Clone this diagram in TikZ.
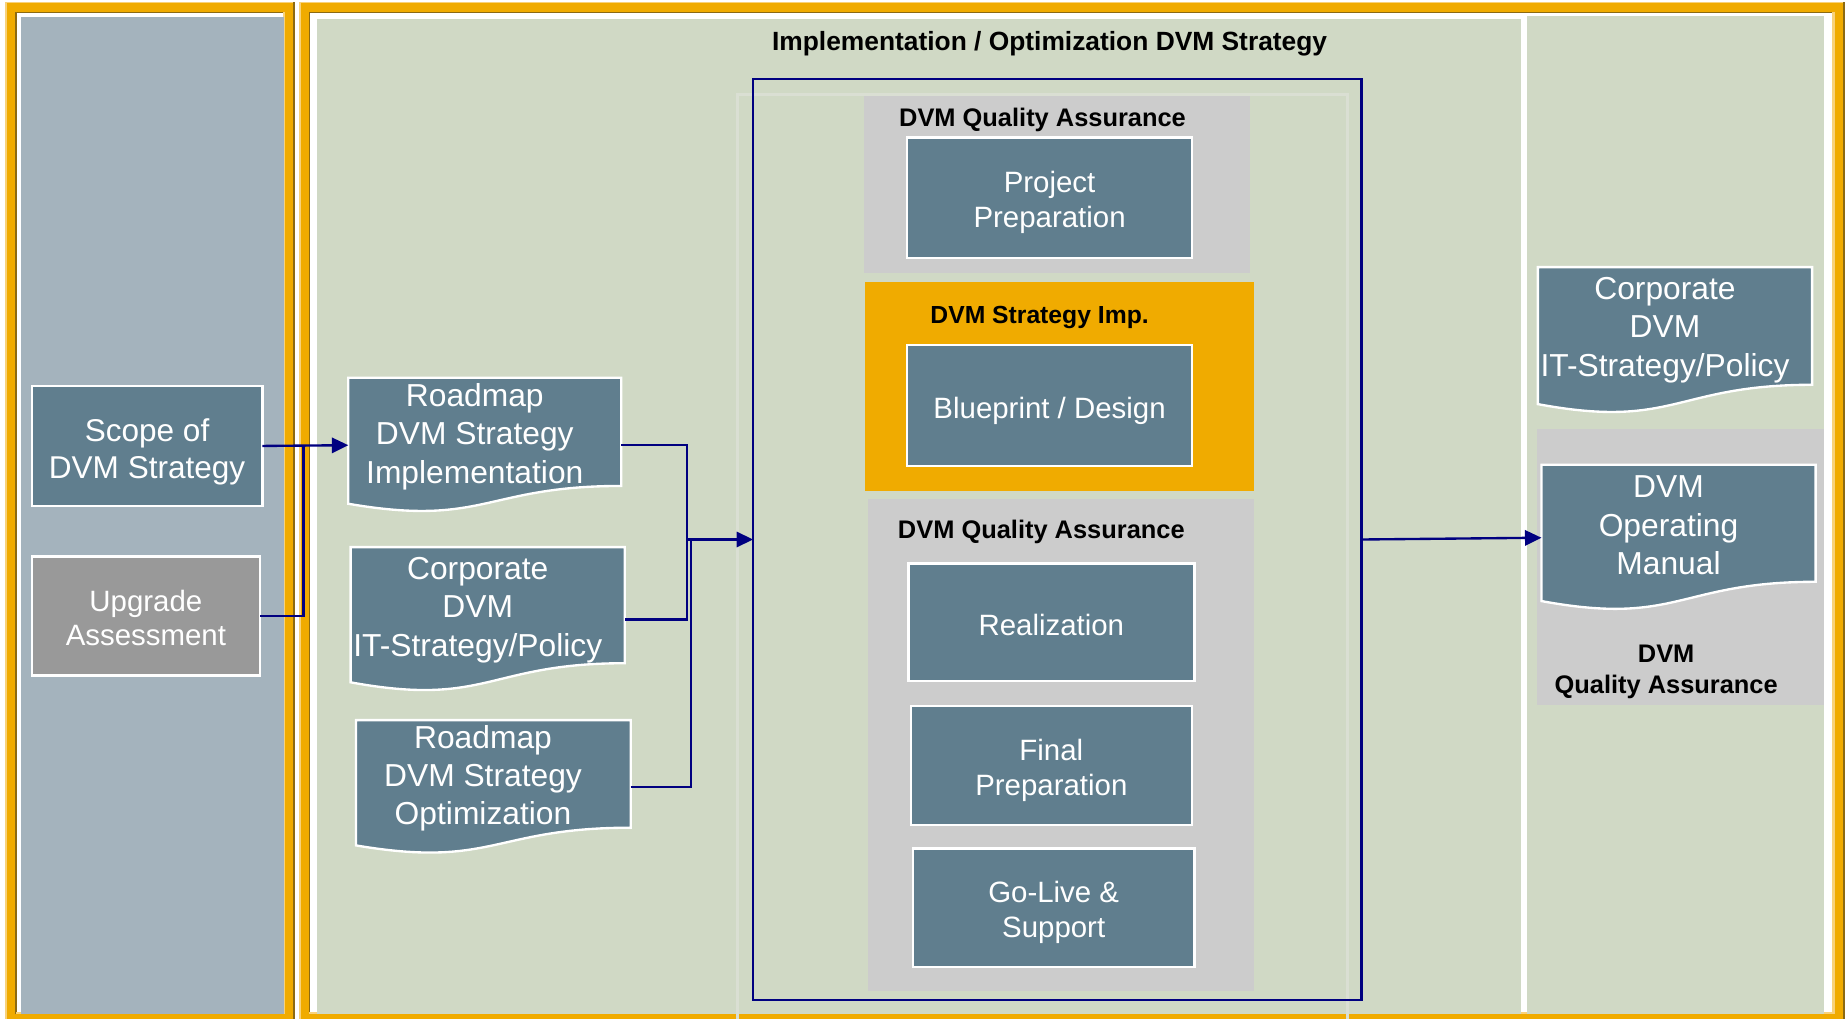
\documentclass[tikz,border=0pt]{standalone}
\usepackage{fontspec}
\setmainfont{Liberation Sans}
\usetikzlibrary{arrows.meta,fit,calc}
\definecolor{frameor}{HTML}{F0AB00}
\definecolor{framelt}{HTML}{F8D27A}
\definecolor{framedk}{HTML}{8C6A12}
\definecolor{leftbg}{HTML}{A4B3BD}
\definecolor{greenbg}{HTML}{D0D9C5}
\definecolor{boxfill}{HTML}{607E8E}
\definecolor{qagray}{HTML}{CCCCCC}
\definecolor{upgray}{HTML}{999999}
\definecolor{navyc}{HTML}{000080}
\definecolor{faintc}{HTML}{DADFD3}
\tikzset{
  px/.style={x=0.5pt,y=-0.5pt},
  stepbox/.style={draw=white, line width=1pt, fill=boxfill, inner sep=0pt, outer sep=0pt},
  boxtxt/.style={text=white, align=center, inner sep=0pt, yshift=-2pt},
  docbox/.style={inner sep=0pt, outer sep=0pt},
  docshape/.style={draw=white, line width=1pt, fill=boxfill},
  doctext/.style={text=white, align=center, font=\fontsize{13.5}{16.3}\selectfont, inner sep=0pt},
  area/.style={inner sep=0pt, outer sep=0pt},
  hdr/.style={font=\fontsize{10.8}{13}\selectfont\bfseries, align=center, inner sep=0pt},
  conn/.style={draw=navyc, line width=1pt},
  arr/.style={-{Triangle[length=7pt,width=6.5pt]}},
  bigtxt/.style={font=\fontsize{13.4}{16}\selectfont},
  midtxt/.style={font=\fontsize{12.5}{15}\selectfont},
}
\newcommand\bevelframe[4]{%
  \fill[frameor] (#1,#2) rectangle (#3,#4);
  \fill[white] ({#1+9.5},{#2+9.5}) rectangle ({#3-9.5},{#4-9.5});
  \draw[framelt, line width=0.7pt] ({#1+0.7},#4) -- ({#1+0.7},{#2+0.7}) -- (#3,{#2+0.7});
  \draw[framedk, line width=0.7pt] ({#1+9},{#4-9}) -- ({#1+9},{#2+9}) -- ({#3-9},{#2+9});
  \draw[framelt, line width=0.9pt] ({#3-9.8},{#2+9}) -- ({#3-9.8},{#4-9.8}) -- ({#1+9},{#4-9.8});
  \draw[framedk, line width=1pt] ({#3-1},#2) -- ({#3-1},{#4-1}) -- (#1,{#4-1});
}
\newcommand\docshape[1]{%
  \path[docshape] (#1.north west) -- (#1.north east)
   -- ($(#1.north east)!0.802!(#1.south east)$)
   .. controls ($(#1.north)!0.802!(#1.south)$) and ($(#1.north)!1.1075!(#1.south)$)
   .. ($(#1.north west)!0.934!(#1.south west)$) -- cycle;}
\begin{document}
\begin{tikzpicture}[px]
\useasboundingbox (0,0) rectangle (1568,866);
\begin{scope}
\clip (0,0) rectangle (1568,866);
\fill[white] (0,0) rectangle (1568,866);
\bevelframe{4.5}{1.5}{251}{871}
\fill[leftbg] (18,14.5) rectangle (241,861.5);
\bevelframe{254}{1.5}{1568}{871}
\fill[greenbg] (269.5,16) rectangle (1293,861.5);
\fill[greenbg] (1298,14) rectangle (1550,861.5);
\draw[faintc, line width=1.2pt] (627,80) rectangle (1145,880);
\end{scope}

% title
\node[hdr, font=\fontsize{11.2}{13}\selectfont\bfseries] (title) at (892,37.5) {Implementation / Optimization DVM Strategy};

% central frame
\node[area, draw=navyc, line width=1pt, fit={(640,67) (1157,850)}] (frame) {};

\node[area, fill=qagray, fit={(734,82) (1062,232)}] (qa1) {};
\node[hdr] (qa1t) at (886,102) {DVM Quality Assurance};
\node[stepbox, fit={(771,117) (1013,219)}] (pp) {};
\node[boxtxt, midtxt] (ppt) at (pp.center) {Project\\Preparation};

\node[area, fill=frameor, fit={(735,240) (1066,417)}] (strat) {};
\node[hdr, font=\fontsize{10.5}{13}\selectfont\bfseries] (stratt) at (883.5,269.5) {DVM Strategy Imp.};
\node[stepbox, fit={(771,293) (1013,396)}] (bp) {};
\node[boxtxt, midtxt, yshift=-0.5pt] (bpt) at (bp.center) {Blueprint / Design};

\node[area, fill=qagray, fit={(738,424) (1066,842)}] (qa2) {};
\node[hdr] (qa2t) at (885,452) {DVM Quality Assurance};
\node[stepbox, fit={(772,479) (1015,579)}] (real) {};
\node[boxtxt, midtxt, yshift=1pt] (realt) at (real.center) {Realization};
\node[stepbox, fit={(774,600) (1013,701)}] (fin) {};
\node[boxtxt, midtxt] (fint) at (fin.center) {Final\\Preparation};
\node[stepbox, fit={(776,721) (1015,822)}] (golive) {};
\node[boxtxt, midtxt] (golivet) at (golive.center) {Go-Live \&\\Support};

% left panel
\node[stepbox, fit={(27,328) (223,430)}] (scope) {};
\node[boxtxt, bigtxt, yshift=-0.5pt] (scopet) at (scope.center) {Scope of\\DVM Strategy};
\node[stepbox, fill=upgray, fit={(27,473) (221,574)}] (upg) {};
\node[boxtxt, font=\fontsize{12.5}{14.5}\selectfont, yshift=1pt] (upgt) at (upg.center) {Upgrade\\Assessment};

% documents
\node[docbox, fit={(296,321) (528,435.7)}] (rm1) {};
\docshape{rm1}
\node[doctext] (rm1t) at (403.5,371) {Roadmap\\DVM Strategy\\Implementation};

\node[docbox, fit={(298,465) (531,588)}] (cp1) {};
\docshape{cp1}
\node[doctext] (cp1t) at (406,518.5) {Corporate\\DVM\\IT-Strategy/Policy};

\node[docbox, fit={(302.5,612) (536,726)}] (rm2) {};
\docshape{rm2}
\node[doctext] (rm2t) at (410.5,661.5) {Roadmap\\DVM Strategy\\Optimization};

% right panel
\node[docbox, fit={(1307,227) (1540,351.7)}] (cp2) {};
\docshape{cp2}
\node[doctext] (cp2t) at (1415,280.5) {Corporate\\DVM\\IT-Strategy/Policy};

\node[area, fill=qagray, fit={(1306,365) (1550,599)}] (qa3) {};
\node[docbox, fit={(1310,395) (1543,519)}] (dom) {};
\docshape{dom}
\node[doctext] (domt) at (1418,446.5) {DVM\\Operating\\Manual};
\node[hdr] (qa3t) at (1416,571) {DVM\\Quality Assurance};

% connectors
\coordinate (j1) at (258,379);
\coordinate (j2) at (584,526.5);
\coordinate (j3) at (587,458.5);
\coordinate (j4) at (584,458.5);
\draw[conn, arr] (scope.east) -- (rm1.west);
\draw[conn] (upg.east) -| (j1);
\draw[conn] (rm1.east) -| (j2) -- (cp1.east);
\draw[conn] (rm2.east) -| (j3);
\draw[conn, arr] (j4) -- (frame.west);
\draw[conn, arr] (frame.east) -- (dom.west);
\end{tikzpicture}
\end{document}
